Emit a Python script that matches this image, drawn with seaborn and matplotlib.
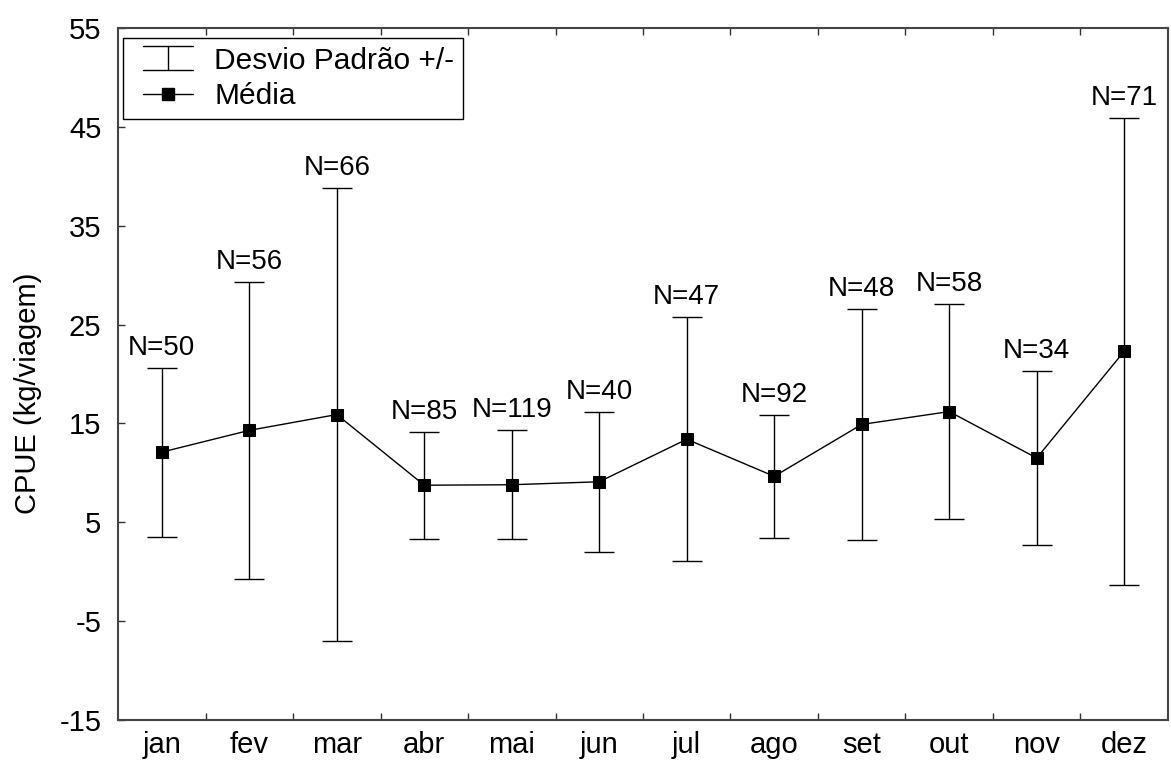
import matplotlib
matplotlib.use("Agg")
import matplotlib.pyplot as plt
from matplotlib.lines import Line2D
from matplotlib.legend_handler import HandlerBase
import seaborn as sns
import pandas as pd
import numpy as np

months = ['jan', 'fev', 'mar', 'abr', 'mai', 'jun', 'jul', 'ago', 'set', 'out', 'nov', 'dez']
means = [12.1, 14.3, 15.9, 8.75, 8.8, 9.1, 13.4, 9.65, 14.9, 16.2, 11.5, 22.3]
sds = [8.55, 15.0, 22.95, 5.4, 5.5, 7.1, 12.35, 6.25, 11.7, 10.9, 8.8, 23.6]
ns = [50, 56, 66, 85, 119, 40, 47, 92, 48, 58, 34, 71]
yticks = [-15, -5, 5, 15, 25, 35, 45, 55]

sns.set_style("ticks")
plt.rcParams['font.family'] = ['Liberation Sans', 'DejaVu Sans']
plt.rcParams['text.color'] = 'black'
plt.rcParams['axes.labelcolor'] = 'black'
plt.rcParams['xtick.labelcolor'] = 'black'
plt.rcParams['ytick.labelcolor'] = 'black'
FS = 21

df = pd.DataFrame({'mes': months, 'media': means, 'dp': sds, 'n': ns})
pos = np.arange(len(months))
df['pos'] = pos

fig = plt.figure(figsize=(11.71, 7.65), dpi=100)
ax = fig.add_axes([0.1008, 0.0588, 0.8966, 0.9046])

ax.errorbar(df['pos'], df['media'], yerr=df['dp'], fmt='none', ecolor='black',
            elinewidth=1.0, capsize=11, capthick=1.0, zorder=2)
sns.lineplot(data=df, x='pos', y='media', ax=ax, color='black', linewidth=1.0,
             marker='s', markersize=9, markeredgecolor='black', markerfacecolor='black',
             zorder=3, legend=False)

for p, m, s, n in zip(df['pos'], df['media'], df['dp'], df['n']):
    ax.annotate(f"N={n}", xy=(p, m + s), xytext=(0, 5), textcoords='offset points',
                ha='center', va='bottom', fontsize=FS - 1)

ax.set_xlim(-0.5, 11.5)
ax.set_ylim(-15, 55)
ax.set_yticks(yticks)
ax.set_yticklabels([str(v) for v in yticks], fontsize=FS)
ax.set_xticks(pos)
ax.set_xticklabels(months, fontsize=FS)
ax.set_xticks(pos[:-1] + 0.5, minor=True)
ax.tick_params(axis='x', which='major', length=0, pad=8)
ax.tick_params(axis='x', which='minor', direction='in', length=5, width=1, top=True, bottom=True, color='#333333')
ax.tick_params(axis='y', which='major', direction='in', length=5, width=1, left=True, right=False, pad=12, color='#333333')
ax.set_xlabel('')
ax.set_ylabel('CPUE (kg/viagem)', fontsize=FS)
ax.yaxis.set_label_coords(-0.072, 0.4725)

for sp in ax.spines.values():
    sp.set_visible(True)
    sp.set_color('#444444')
    sp.set_linewidth(1.5)

LM = 8  # left margin inside handle box


class ErrHandler(HandlerBase):
    def create_artists(self, legend, orig_handle, xdescent, ydescent, width, height, fontsize, trans):
        x0, x1 = -xdescent + LM, -xdescent + width
        xc = (x0 + x1) / 2
        yc = -ydescent + height / 2
        yb, yt = yc - 8.5, yc + 8.5
        arts = [Line2D([xc, xc], [yb, yt], color='black', lw=1),
                Line2D([x0, x1], [yb, yb], color='black', lw=1),
                Line2D([x0, x1], [yt, yt], color='black', lw=1)]
        for a in arts:
            a.set_transform(trans)
        return arts


class MeanHandler(HandlerBase):
    def create_artists(self, legend, orig_handle, xdescent, ydescent, width, height, fontsize, trans):
        x0, x1 = -xdescent + LM, -xdescent + width
        xc = (x0 + x1) / 2
        yc = -ydescent + height / 2
        ln = Line2D([x0, x1], [yc, yc], color='black', lw=1)
        mk = Line2D([xc], [yc], color='black', marker='s', markersize=9, linestyle='none')
        for a in (ln, mk):
            a.set_transform(trans)
        return [ln, mk]


h_err = Line2D([], [], color='black')
h_mean = Line2D([], [], color='black', lw=1, marker='s', markersize=9)
leg = ax.legend([h_err, h_mean], ['Desvio Padrão +/-', 'Média'],
                handler_map={h_err: ErrHandler(), h_mean: MeanHandler()},
                loc='upper left', bbox_to_anchor=(0.005, 0.986), fontsize=FS + 0.5,
                frameon=True, fancybox=False, framealpha=1, edgecolor='black',
                borderpad=0.3, labelspacing=0.25, handlelength=2.05, handletextpad=0.7,
                borderaxespad=0)
leg.get_frame().set_linewidth(1.0)

fig.savefig('out.png', dpi=100)
